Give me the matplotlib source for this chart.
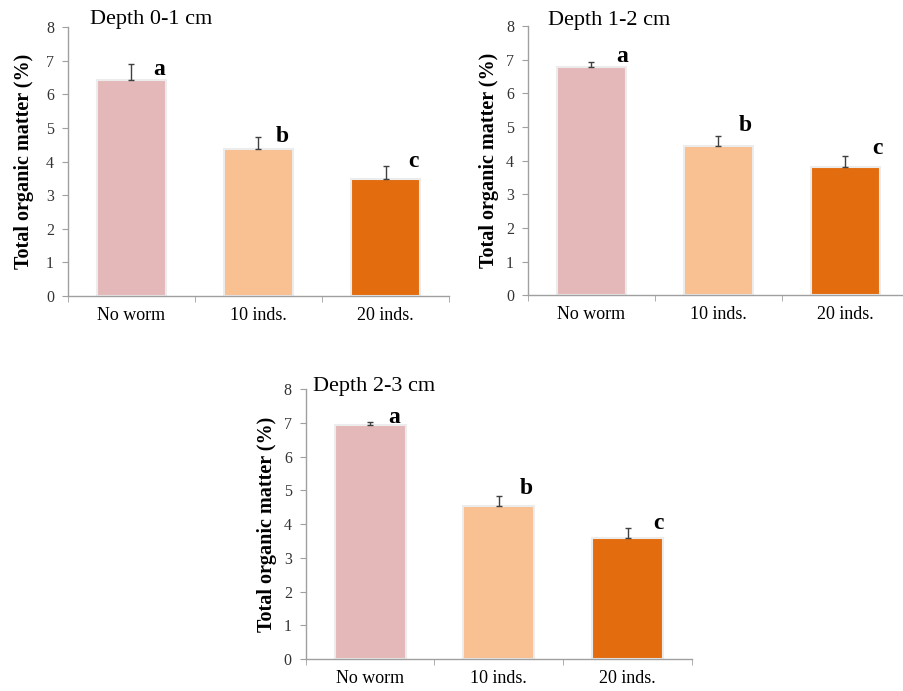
import matplotlib
matplotlib.use("Agg")
from matplotlib import pyplot as plt
import numpy as np

plt.rcParams['font.family'] = ['Liberation Serif', 'DejaVu Serif']

categories = ["No worm", "10 inds.", "20 inds."]
titles = ["Depth 0-1 cm", "Depth 1-2 cm", "Depth 2-3 cm"]

# mean total organic matter (%) per depth
toc_0_1 = [6.42, 4.37, 3.48]
toc_1_2 = [6.79, 4.44, 3.81]
toc_2_3 = [6.93, 4.54, 3.58]
# upper error bars
err_0_1 = [0.48, 0.36, 0.39]
err_1_2 = [0.13, 0.29, 0.33]
err_2_3 = [0.09, 0.28, 0.29]
# significance letters
letters = ["a", "b", "c"]

colors = ["#e4b8b8", "#f9c092", "#e36c0e"]

# (left, bottom, width, height), data, title, title x/y, letter y, letter x offset, ylabel pad
panels = [
    ([0.0752, 0.5716, 0.4215, 0.3893], toc_0_1, err_0_1, titles[0], 0.058, 1.027, [6.75, 4.73, 3.99], [0.22, 0.19, 0.22], 9),
    ([0.5840, 0.5726, 0.4215, 0.3897], toc_1_2, err_1_2, titles[1], 0.052, 1.020, [7.09, 5.06, 4.35], [0.24, 0.21, 0.25], 5),
    ([0.3382, 0.0463, 0.4273, 0.3907], toc_2_3, err_2_3, titles[2], 0.020, 1.008, [7.16, 5.06, 4.02], [0.19, 0.21, 0.24], 5),
]

fig = plt.figure(figsize=(9.04, 6.91), dpi=100)

x = np.arange(len(categories))
for rect, vals, errs, title, tx, ty, ly, lx, lpad in panels:
    ax = fig.add_axes(rect)
    ax.bar(x, vals, width=0.55, color=colors, edgecolor="#ececec", linewidth=1.5, zorder=2)
    ax.errorbar(x, vals, yerr=[np.zeros(len(vals)), errs], fmt="none",
                ecolor="#404040", elinewidth=1.0, capsize=2.5, capthick=1.0, zorder=3)
    for i in range(len(vals)):
        ax.text(x[i] + lx[i], ly[i], letters[i], ha="center", va="center",
                fontsize=17, fontweight="bold", color="black")

    ax.set_xlim(-0.5, 2.5)
    ax.set_ylim(0, 8)
    ax.set_yticks(range(0, 9))
    ax.set_xticks(x)
    ax.set_xticklabels(categories, fontsize=13)
    ax.set_xticks([-0.5, 0.5, 1.5, 2.5], minor=True)
    ax.tick_params(axis="x", which="major", length=0, pad=8)
    ax.tick_params(axis="x", which="minor", length=4, color="#a0a0a0", direction="out")
    ax.tick_params(axis="y", length=4, color="#a0a0a0", direction="out",
                   labelsize=11.5, labelcolor="#333333", pad=6)

    for s in ["top", "right"]:
        ax.spines[s].set_visible(False)
    for s in ["left", "bottom"]:
        ax.spines[s].set_color("#a0a0a0")
        ax.spines[s].set_linewidth(1.0)

    ax.set_ylabel("Total organic matter (%)", fontsize=14.5, fontweight="bold", labelpad=lpad)
    ax.text(tx, ty, title, transform=ax.transAxes, ha="left", va="center", fontsize=16)

fig.savefig("out.png", dpi=100)
